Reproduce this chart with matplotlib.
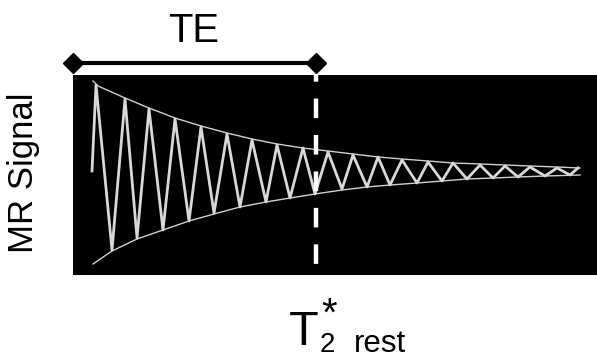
import numpy as np
import matplotlib.pyplot as plt

plt.rcParams['font.family'] = ['Liberation Sans', 'DejaVu Sans']

W, H = 597, 359

# MR signal (free induction decay): time units, amplitude a.u.
sig_t = [19, 23, 39, 52, 64, 76, 90, 102, 116, 128, 141, 154, 167, 179, 193, 204,
         217, 230, 242, 255, 269, 280, 294, 305, 317, 329, 344, 355, 369, 380,
         394, 407, 420, 432, 445, 457, 472, 484, 497, 505]
sig_amp = [0, 86, -79, 72, -67, 62, -59, 52, -50, 44, -42, 37, -36, 31, -31, 26,
           -27, 23, -23, 19, -18, 16, -16, 14, -14, 11, -12, 9, -10, 8,
           -8, 6, -7, 5, -6, 4, -5, 3, -4, 3]

# T2* envelope
env_up_t = [20, 25, 52, 76, 102, 128, 154, 179, 204, 230, 255, 280, 305, 329,
            355, 380, 407, 432, 457, 484, 507]
env_up_amp = [90, 85, 73, 63, 53, 45, 38, 32, 27, 23, 20, 17, 14, 12,
              10, 8, 7, 6, 5, 4, 3]
env_lo_t = [20, 39, 64, 90, 116, 141, 167, 193, 217, 242, 269, 294, 317, 344,
            369, 394, 420, 445, 472, 507]
env_lo_amp = [-93, -80, -68, -59, -50, -43, -36, -31, -27, -23, -19, -16, -14, -12,
              -10, -8, -7, -6, -5, -4]

te = 243          # echo time
te_bar_amp = 108  # height of TE bracket (above the panel)

fig = plt.figure(figsize=(W / 100, H / 100), dpi=100)
fig.patch.set_facecolor('white')

ax = fig.add_axes([73 / W, 1 - 275 / H, (597 - 73) / W, 200 / H])
ax.set_facecolor('black')
ax.set_xlim(0, 524)
ax.set_ylim(-104, 96)
ax.set_xticks([])
ax.set_yticks([])
for s in ax.spines.values():
    s.set_visible(False)

ax.plot(env_up_t, env_up_amp, color='#d0d0d0', lw=1.0)
ax.plot(env_lo_t, env_lo_amp, color='#d0d0d0', lw=1.0)
ax.plot(sig_t, sig_amp, color='#d8d8d8', lw=2.0, solid_joinstyle='round')

# TE marker
ax.plot([te, te], [96, -104], color='white', lw=3.2,
        ls=(2.9, (4.4, 3.8)), dash_capstyle='butt')
ax.plot([0, te], [te_bar_amp, te_bar_amp], color='black', lw=3.0,
        marker='D', ms=10, clip_on=False)

def px(x, y):
    return x / W, 1 - y / H

fig.text(*px(194, 42), 'TE', fontsize=28.8, ha='center', va='baseline')
fig.text(*px(24, 173), 'MR Signal', fontsize=25, rotation=90,
         ha='center', va='center')

fig.text(*px(289, 345), 'T', fontsize=35, ha='left', va='baseline')
fig.text(*px(320, 352), '2', fontsize=20, ha='left', va='baseline')
fig.text(*px(321, 296), '*', fontsize=29, ha='left', va='top')
fig.text(*px(354, 352), 'rest', fontsize=22.5, ha='left', va='baseline')

fig.savefig('out.png', dpi=100, facecolor='white')
